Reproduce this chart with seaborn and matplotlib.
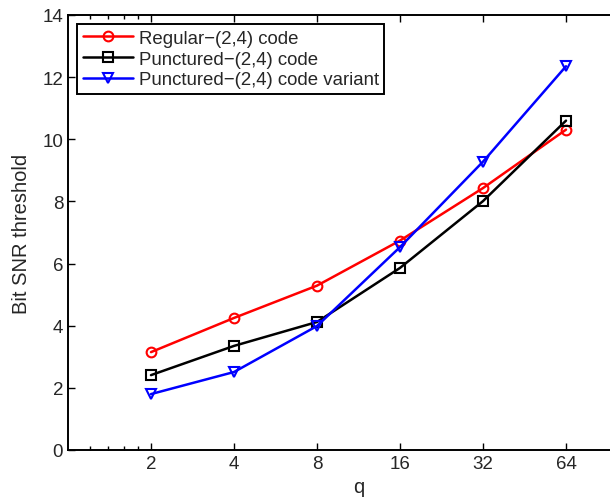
import numpy as np
import pandas as pd
import matplotlib
matplotlib.use("Agg")
import matplotlib.pyplot as plt
import matplotlib.ticker as mticker
import seaborn as sns


q_values = [2, 4, 8, 16, 32, 64]

regular = [3.15, 4.25, 5.29, 6.74, 8.43, 10.31]
punctured = [2.41, 3.35, 4.12, 5.86, 8.01, 10.60]
punctured_variant = [1.80, 2.51, 3.99, 6.53, 9.28, 12.35]

series_names = [
    "Regular\u2212(2,4) code",
    "Punctured\u2212(2,4) code",
    "Punctured\u2212(2,4) code variant"
]
series_values = [regular, punctured, punctured_variant]
series_colors = ["#ff0000", "#000000", "#0000ff"]
series_markers = ["o", "s", "v"]

x_ticks = [2, 4, 8, 16, 32, 64]
x_minor = [1.2, 1.4, 1.6, 1.8]
y_ticks = [0, 2, 4, 6, 8, 10, 12, 14]


sns.set_style("ticks")
plt.rcParams["font.family"] = ["Liberation Sans", "DejaVu Sans"]
plt.rcParams["xtick.direction"] = "in"
plt.rcParams["ytick.direction"] = "in"
plt.rcParams["axes.linewidth"] = 1.4

fig = plt.figure(figsize=(6.10, 5.02), dpi=100)
ax = fig.add_axes([68 / 610, 1 - 451 / 502, (649 - 68) / 610, (451 - 16) / 502])

for name, values, color, marker in zip(series_names, series_values, series_colors, series_markers):
    df = pd.DataFrame({"q": q_values, "snr": values})
    sns.lineplot(
        data=df,
        x="q",
        y="snr",
        ax=ax,
        color=color,
        marker=marker,
        markersize=7,
        markerfacecolor="none",
        markeredgecolor=color,
        markeredgewidth=1.5,
        linewidth=1.8,
        label=name
    )

ax.set_xscale("log", base=2)
ax.set_xlim(1, 128)
ax.set_ylim(0, 14)

ax.set_xticks(x_ticks)
ax.set_xticklabels([str(t) for t in x_ticks])
ax.set_xticks(x_minor, minor=True)
ax.xaxis.set_minor_formatter(mticker.NullFormatter())
ax.set_yticks(y_ticks)
ax.set_yticklabels([str(t) for t in y_ticks])

ax.tick_params(which="both", top=True, right=True, labelsize=13.5, width=1.0, color="black")
ax.tick_params(which="major", length=5)
ax.tick_params(which="minor", length=3)

for spine in ax.spines.values():
    spine.set_visible(True)
    spine.set_color("black")

ax.set_xlabel("q", fontsize=14.5, labelpad=4)
ax.set_ylabel("Bit SNR threshold", fontsize=14.5, labelpad=8)

leg = ax.legend(
    loc="upper left",
    fontsize=13.4,
    frameon=True,
    fancybox=False,
    framealpha=1,
    edgecolor="black",
    handlelength=2.7,
    handletextpad=0.3,
    labelspacing=0.2,
    borderpad=0.3,
    borderaxespad=0.5
)
leg.get_frame().set_linewidth(1.4)

fig.savefig("out.png", dpi=100)
